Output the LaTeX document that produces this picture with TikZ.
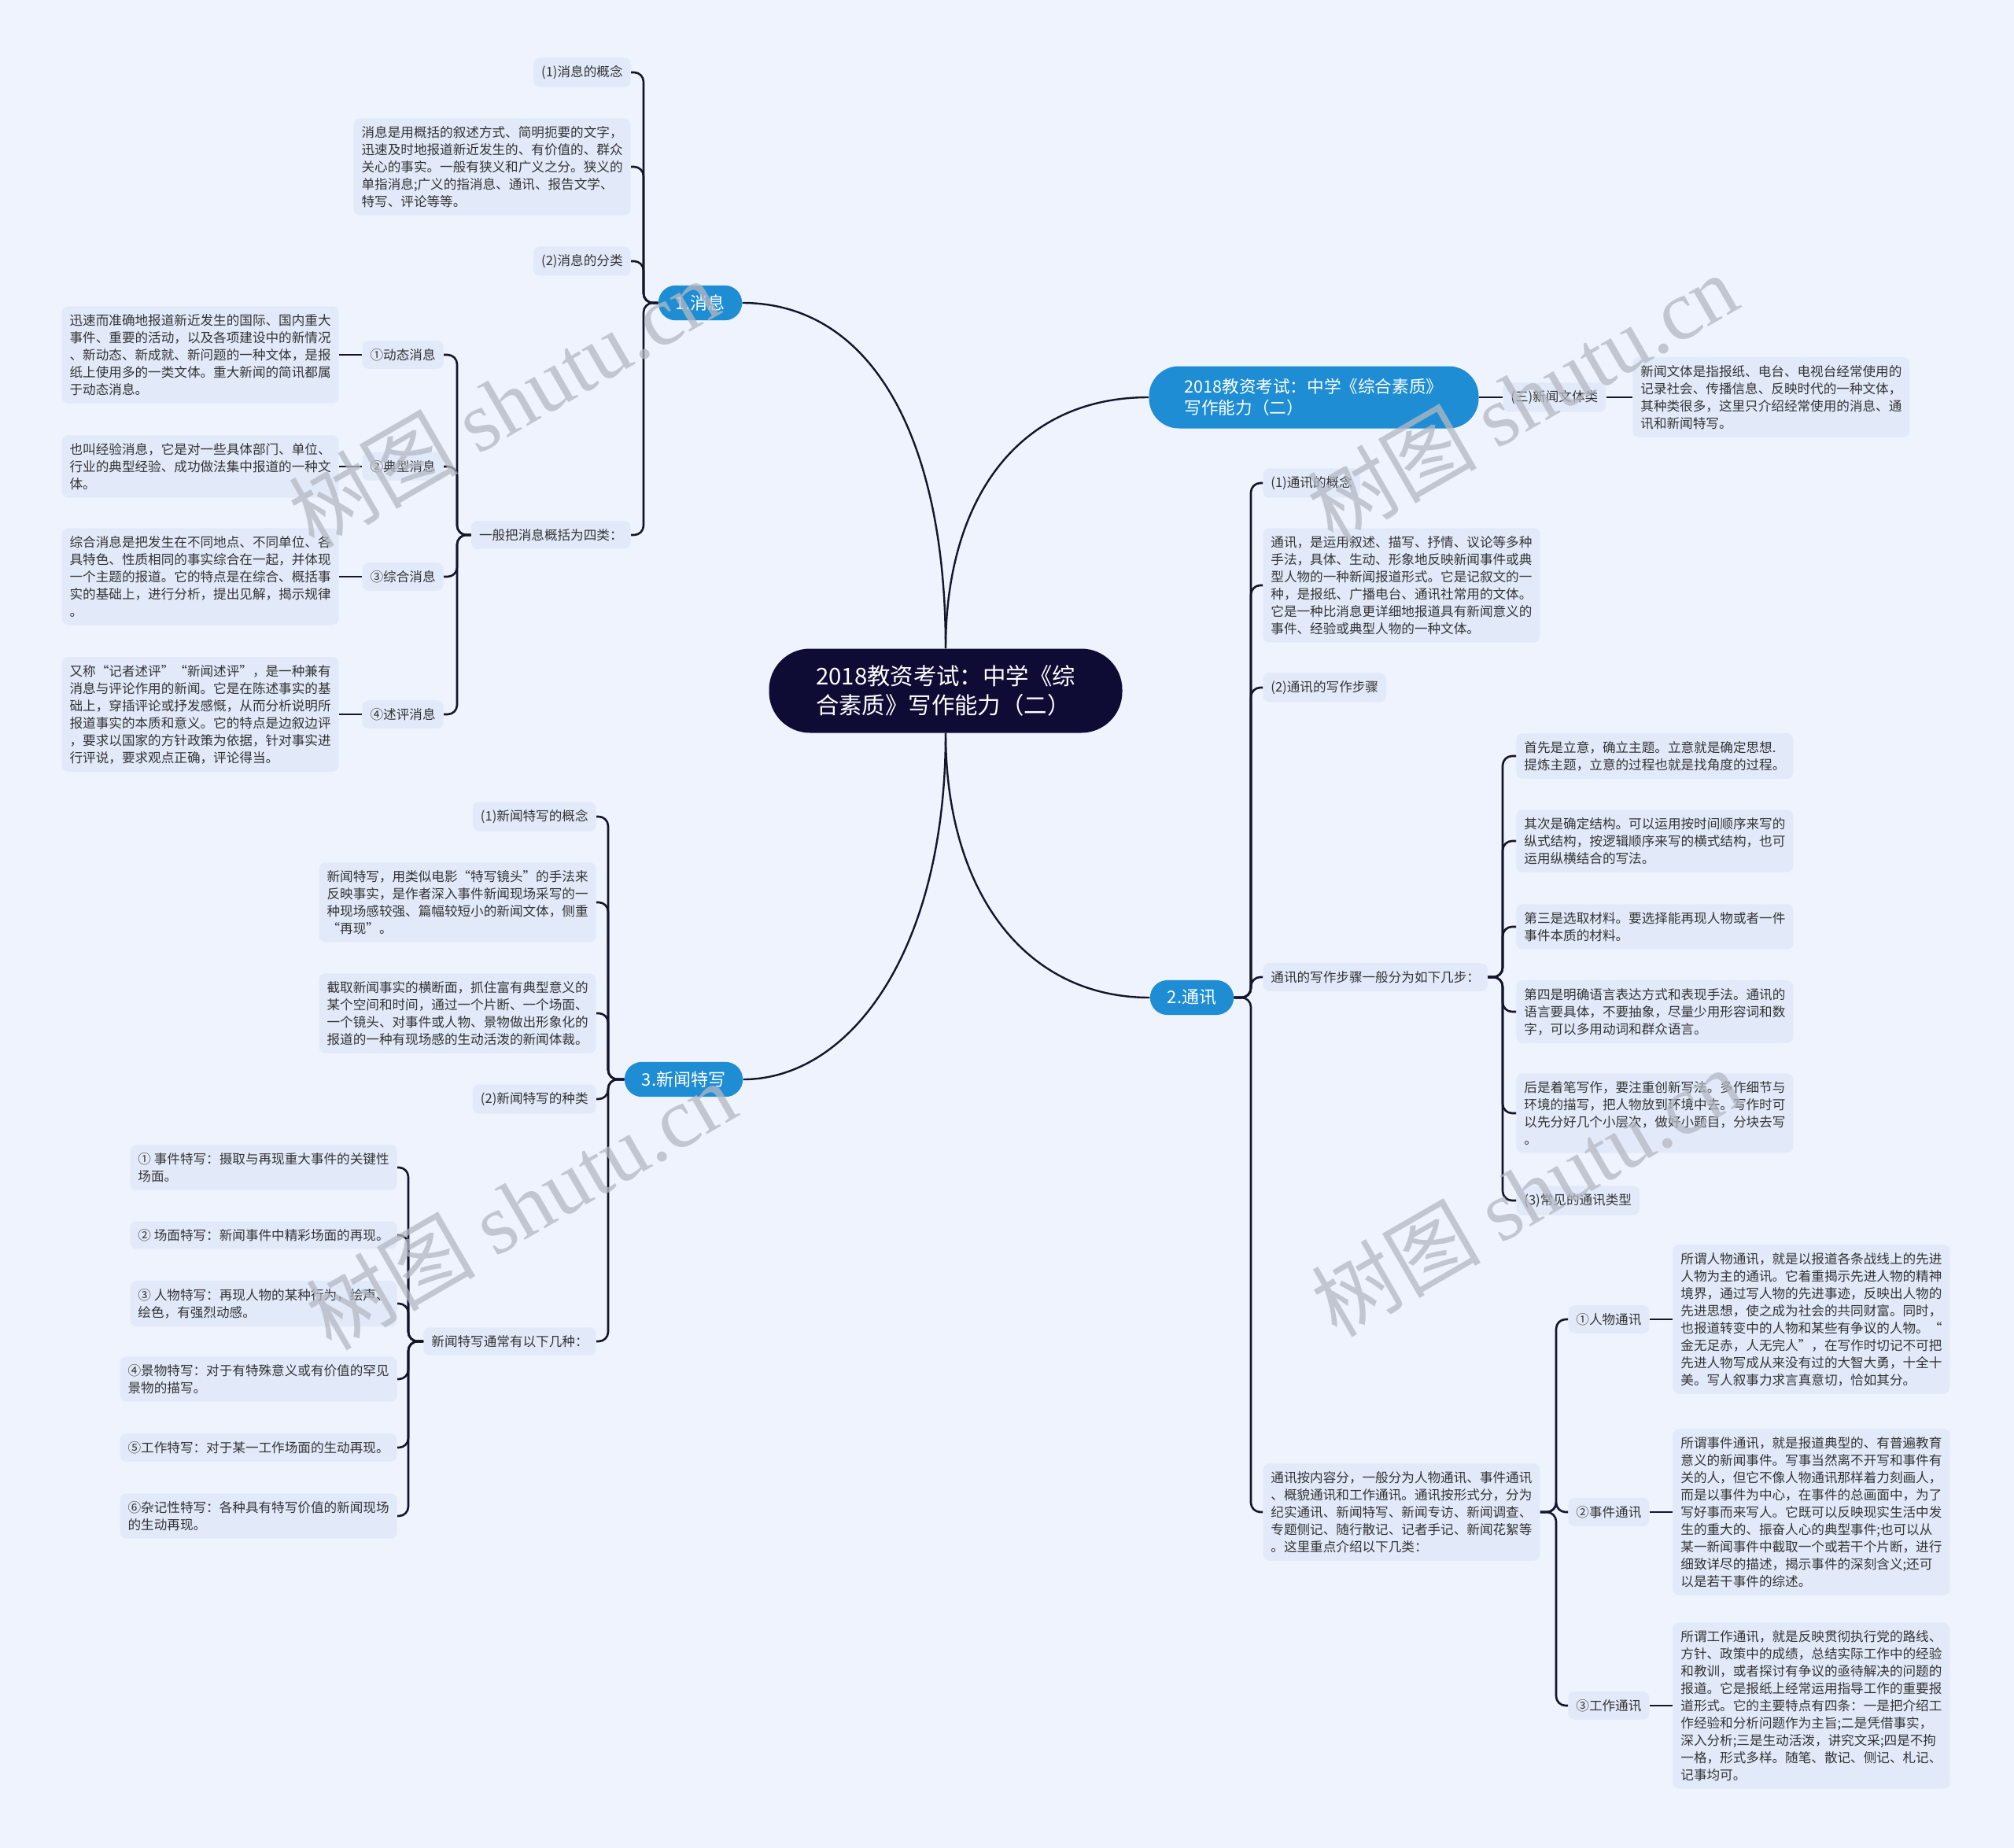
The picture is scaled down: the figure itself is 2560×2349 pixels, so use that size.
\documentclass[tikz,border=0pt]{standalone}
\usepackage{fontspec}
\setmainfont{Noto Sans CJK SC}
\newfontfamily\wmlatin{Liberation Serif}
\definecolor{bg}{HTML}{EEF3FD}
\definecolor{leaffill}{HTML}{E2EAFA}
\definecolor{txt}{HTML}{333333}
\definecolor{mainblue}{HTML}{1E8DD3}
\definecolor{rootfill}{HTML}{0E0B35}
\definecolor{linec}{HTML}{15152A}
\definecolor{wmc}{HTML}{B4B8C2}
\tikzset{
  leaf/.style={fill=leaffill, text=txt, rounded corners=4pt, inner xsep=5pt, inner ysep=5pt,
    align=left, font=\fontsize{8.3pt}{11pt}\selectfont},
  lvlone/.style={fill=mainblue, text=white, rounded corners=11pt, inner xsep=11pt, inner ysep=6pt,
    font=\fontsize{11pt}{13.5pt}\selectfont},
  rootbox/.style={fill=rootfill, text=white, rounded corners=26pt, align=left,
    minimum width=224.5pt, minimum height=53.5pt, inner sep=0pt,
    font=\fontsize{14.7pt}{18.5pt}\selectfont},
  topicbox/.style={fill=mainblue, text=white, rounded corners=19pt, align=left,
    minimum width=209.5pt, minimum height=39.5pt, inner sep=0pt,
    font=\fontsize{10.8pt}{13.5pt}\selectfont},
  conn/.style={draw=linec, line width=1.3pt, rounded corners=6pt},
  trunk/.style={draw=linec, line width=1.2pt},
  wm/.style={text=wmc, opacity=0.75, rotate=30, inner sep=0pt,
    font=\fontsize{54pt}{60pt}\selectfont}
}
\begin{document}
\begin{tikzpicture}[x=0.5pt,y=-0.5pt]
\useasboundingbox (0,0) rectangle (2560,2349);
\fill[bg] (0,0) rectangle (2560,2349);

% ---------- root and main topics ----------
\node[rootbox] (root) at (1202,878) {2018教资考试：中学《综\\合素质》写作能力（二）};
\node[lvlone] (n1) at (890,385) {1.消息};
\node[lvlone] (n3) at (869,1372) {3.新闻特写};
\node[lvlone] (n2) at (1515,1268) {2.通讯};
\node[topicbox] (nt) at (1670,505) {2018教资考试：中学《综合素质》\\写作能力（二）};

\draw[trunk] (root.north) .. controls (1202,560) and (1110,385) .. (n1.east);
\draw[trunk] (root.north) .. controls (1202,640) and (1290,505) .. (nt.west);
\draw[trunk] (root.south) .. controls (1202,1130) and (1300,1268) .. (n2.west);
\draw[trunk] (root.south) .. controls (1202,1210) and (1080,1372) .. (n3.east);

% ---------- 1.消息 ----------
\node[leaf, anchor=east] (a1) at (802,92) {(1)消息的概念};
\node[leaf, anchor=east] (a2) at (802,212) {消息是用概括的叙述方式、简明扼要的文字，\\迅速及时地报道新近发生的、有价值的、群众\\关心的事实。一般有狭义和广义之分。狭义的\\单指消息;广义的指消息、通讯、报告文学、\\特写、评论等等。};
\node[leaf, anchor=east] (a3) at (802,332) {(2)消息的分类};
\node[leaf, anchor=east] (a4) at (802,680) {一般把消息概括为四类：};
\coordinate (j1) at (818,385);
\foreach \c in {a1,a2,a3,a4} \draw[conn] (n1.west) -- (j1) |- (\c.east);

\node[leaf, anchor=east] (b1) at (564,451) {①动态消息};
\node[leaf, anchor=east] (b1d) at (431,451) {迅速而准确地报道新近发生的国际、国内重大\\事件、重要的活动，以及各项建设中的新情况\\、新动态、新成就、新问题的一种文体，是报\\纸上使用多的一类文体。重大新闻的简讯都属\\于动态消息。};
\node[leaf, anchor=east] (b2) at (564,593) {②典型消息};
\node[leaf, anchor=east] (b2d) at (431,593) {也叫经验消息，它是对一些具体部门、单位、\\行业的典型经验、成功做法集中报道的一种文\\体。};
\node[leaf, anchor=east] (b3) at (564,733) {③综合消息};
\node[leaf, anchor=east] (b3d) at (431,733) {综合消息是把发生在不同地点、不同单位、各\\具特色、性质相同的事实综合在一起，并体现\\一个主题的报道。它的特点是在综合、概括事\\实的基础上，进行分析，提出见解，揭示规律\\。};
\node[leaf, anchor=east] (b4) at (564,908) {④述评消息};
\node[leaf, anchor=east] (b4d) at (431,908) {又称“记者述评”“新闻述评”，是一种兼有\\消息与评论作用的新闻。它是在陈述事实的基\\础上，穿插评论或抒发感慨，从而分析说明所\\报道事实的本质和意义。它的特点是边叙边评\\，要求以国家的方针政策为依据，针对事实进\\行评说，要求观点正确，评论得当。};
\coordinate (j2) at (581,680);
\foreach \c in {b1,b2,b3,b4} \draw[conn] (a4.west) -- (j2) |- (\c.east);
\foreach \c in {b1,b2,b3,b4} \draw[conn] (\c.west) -- (\c d.east);

% ---------- 3.新闻特写 ----------
\node[leaf, anchor=east] (c1) at (758,1038) {(1)新闻特写的概念};
\node[leaf, anchor=east] (c2) at (758,1147) {新闻特写，用类似电影“特写镜头”的手法来\\反映事实，是作者深入事件新闻现场采写的一\\种现场感较强、篇幅较短小的新闻文体，侧重\\“再现”。};
\node[leaf, anchor=east] (c3) at (758,1288) {截取新闻事实的横断面，抓住富有典型意义的\\某个空间和时间，通过一个片断、一个场面、\\一个镜头、对事件或人物、景物做出形象化的\\报道的一种有现场感的生动活泼的新闻体裁。};
\node[leaf, anchor=east] (c4) at (758,1397) {(2)新闻特写的种类};
\node[leaf, anchor=east] (c5) at (758,1705) {新闻特写通常有以下几种：};
\coordinate (j3) at (773,1372);
\foreach \c in {c1,c2,c3,c4,c5} \draw[conn] (n3.west) -- (j3) |- (\c.east);

\node[leaf, anchor=east] (d1) at (505,1484) {① 事件特写：摄取与再现重大事件的关键性\\场面。};
\node[leaf, anchor=east] (d2) at (505,1570) {② 场面特写：新闻事件中精彩场面的再现。};
\node[leaf, anchor=east] (d3) at (505,1657) {③ 人物特写：再现人物的某种行为，绘声、\\绘色，有强烈动感。};
\node[leaf, anchor=east] (d4) at (505,1753) {④景物特写：对于有特殊意义或有价值的罕见\\景物的描写。};
\node[leaf, anchor=east] (d5) at (505,1840) {⑤工作特写：对于某一工作场面的生动再现。};
\node[leaf, anchor=east] (d6) at (505,1927) {⑥杂记性特写：各种具有特写价值的新闻现场\\的生动再现。};
\coordinate (j4) at (519,1705);
\foreach \c in {d1,d2,d3,d4,d5,d6} \draw[conn] (c5.west) -- (j4) |- (\c.east);

% ---------- top-right topic ----------
\node[leaf, anchor=west] (e1) at (1910,505) {(三)新闻文体类};
\node[leaf, anchor=west] (e1d) at (2075,505) {新闻文体是指报纸、电台、电视台经常使用的\\记录社会、传播信息、反映时代的一种文体，\\其种类很多，这里只介绍经常使用的消息、通\\讯和新闻特写。};
\draw[conn] (nt.east) -- (e1.west);
\draw[conn] (e1.east) -- (e1d.west);

% ---------- 2.通讯 ----------
\node[leaf, anchor=west] (f1) at (1605,614) {(1)通讯的概念};
\node[leaf, anchor=west] (f2) at (1605,744) {通讯，是运用叙述、描写、抒情、议论等多种\\手法，具体、生动、形象地反映新闻事件或典\\型人物的一种新闻报道形式。它是记叙文的一\\种，是报纸、广播电台、通讯社常用的文体。\\它是一种比消息更详细地报道具有新闻意义的\\事件、经验或典型人物的一种文体。};
\node[leaf, anchor=west] (f3) at (1605,874) {(2)通讯的写作步骤};
\node[leaf, anchor=west] (f4) at (1605,1242) {通讯的写作步骤一般分为如下几步：};
\node[leaf, anchor=west] (f5) at (1605,1922) {通讯按内容分，一般分为人物通讯、事件通讯\\、概貌通讯和工作通讯。通讯按形式分，分为\\纪实通讯、新闻特写、新闻专访、新闻调查、\\专题侧记、随行散记、记者手记、新闻花絮等\\。这里重点介绍以下几类：};
\coordinate (j5) at (1590,1268);
\foreach \c in {f1,f2,f3,f4,f5} \draw[conn] (n2.east) -- (j5) |- (\c.west);

\node[leaf, anchor=west] (g1) at (1927,961) {首先是立意，确立主题。立意就是确定思想.\\提炼主题，立意的过程也就是找角度的过程。};
\node[leaf, anchor=west] (g2) at (1927,1069) {其次是确定结构。可以运用按时间顺序来写的\\纵式结构，按逻辑顺序来写的横式结构，也可\\运用纵横结合的写法。};
\node[leaf, anchor=west] (g3) at (1927,1178) {第三是选取材料。要选择能再现人物或者一件\\事件本质的材料。};
\node[leaf, anchor=west] (g4) at (1927,1286) {第四是明确语言表达方式和表现手法。通讯的\\语言要具体，不要抽象，尽量少用形容词和数\\字，可以多用动词和群众语言。};
\node[leaf, anchor=west] (g5) at (1927,1415) {后是着笔写作，要注重创新写法。多作细节与\\环境的描写，把人物放到环境中去。写作时可\\以先分好几个小层次，做好小题目，分块去写\\。};
\node[leaf, anchor=west] (g6) at (1927,1526) {(3)常见的通讯类型};
\coordinate (j6) at (1910,1242);
\foreach \c in {g1,g2,g3,g4,g5,g6} \draw[conn] (f4.east) -- (j6) |- (\c.west);

\node[leaf, anchor=west] (h1) at (1993,1677) {①人物通讯};
\node[leaf, anchor=west] (h1d) at (2126,1677) {所谓人物通讯，就是以报道各条战线上的先进\\人物为主的通讯。它着重揭示先进人物的精神\\境界，通过写人物的先进事迹，反映出人物的\\先进思想，使之成为社会的共同财富。同时，\\也报道转变中的人物和某些有争议的人物。“\\金无足赤，人无完人”，在写作时切记不可把\\先进人物写成从来没有过的大智大勇，十全十\\美。写人叙事力求言真意切，恰如其分。};
\node[leaf, anchor=west] (h2) at (1993,1922) {②事件通讯};
\node[leaf, anchor=west] (h2d) at (2126,1922) {所谓事件通讯，就是报道典型的、有普遍教育\\意义的新闻事件。写事当然离不开写和事件有\\关的人，但它不像人物通讯那样着力刻画人，\\而是以事件为中心，在事件的总画面中，为了\\写好事而来写人。它既可以反映现实生活中发\\生的重大的、振奋人心的典型事件;也可以从\\某一新闻事件中截取一个或若干个片断，进行\\细致详尽的描述，揭示事件的深刻含义;还可\\以是若干事件的综述。};
\node[leaf, anchor=west] (h3) at (1993,2168) {③工作通讯};
\node[leaf, anchor=west] (h3d) at (2126,2168) {所谓工作通讯，就是反映贯彻执行党的路线、\\方针、政策中的成绩，总结实际工作中的经验\\和教训，或者探讨有争议的亟待解决的问题的\\报道。它是报纸上经常运用指导工作的重要报\\道形式。它的主要特点有四条：一是把介绍工\\作经验和分析问题作为主旨;二是凭借事实，\\深入分析;三是生动活泼，讲究文采;四是不拘\\一格，形式多样。随笔、散记、侧记、札记、\\记事均可。};
\coordinate (j7) at (1978,1922);
\foreach \c in {h1,h2,h3} \draw[conn] (f5.east) -- (j7) |- (\c.west);
\foreach \c in {h1,h2,h3} \draw[conn] (\c.east) -- (\c d.west);

% ---------- watermarks ----------
\begin{scope}
\clip (0,0) rectangle (2560,2349);
\node[wm] (wm1) at (640,512) {树图 {\wmlatin shutu.cn}};
\node[wm] (wm2) at (1935,505) {树图 {\wmlatin shutu.cn}};
\node[wm] (wm3) at (662,1532) {树图 {\wmlatin shutu.cn}};
\node[wm] (wm4) at (1940,1515) {树图 {\wmlatin shutu.cn}};
\node[wm] (wm5) at (662,2560) {树图 {\wmlatin shutu.cn}};
\node[wm] (wm6) at (1940,2545) {树图 {\wmlatin shutu.cn}};
\end{scope}
\end{tikzpicture}
\end{document}
